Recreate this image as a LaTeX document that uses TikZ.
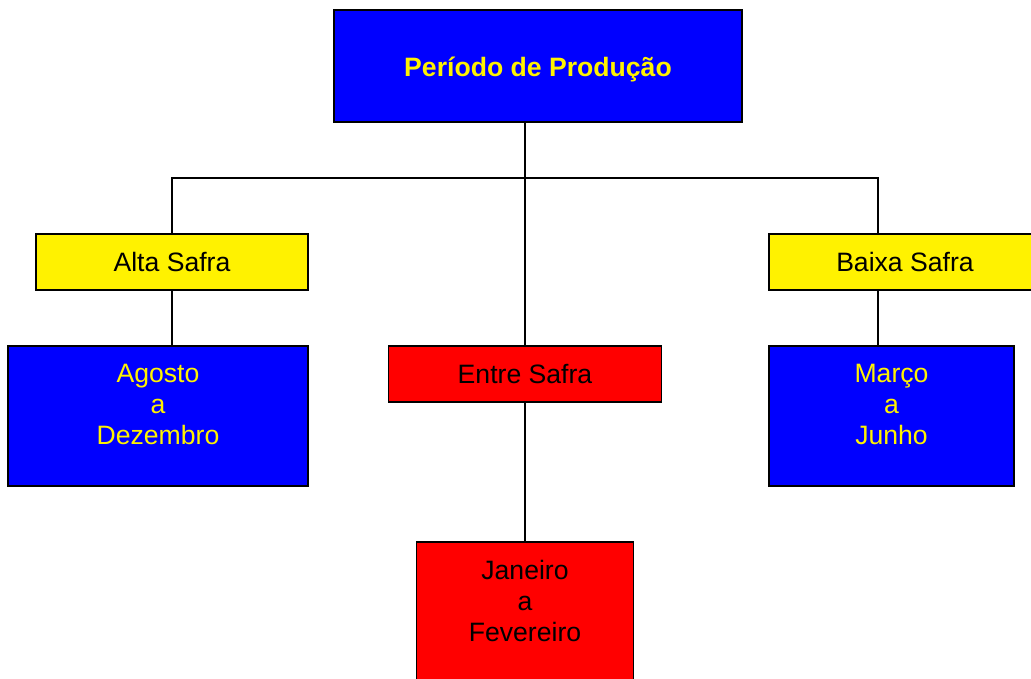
\documentclass[tikz,border=0pt]{standalone}
\usepackage{fontspec}
\setmainfont{Liberation Sans}
\usetikzlibrary{positioning}

\begin{document}
\begin{tikzpicture}[x=1pt, y=-1pt, line width=1.6pt]
	\tikzstyle{box}=[draw, rectangle, inner sep=0pt, outer sep=0pt,
		font=\fontsize{26.6}{31}\selectfont, text height=19pt, text depth=0pt]
	\tikzstyle{blue box}=[box, fill=blue, text=yellow]
	\tikzstyle{yellow box}=[box, fill=yellow]
	\tikzstyle{red box}=[box, fill=red]
	\tikzstyle{inside}=[anchor=north, align=center, inner sep=0pt, yshift=-17pt,
		font=\fontsize{26.6}{31}\selectfont]
	\useasboundingbox (0,0) rectangle (1031,678);
	\clip (0,0) rectangle (1031,678);
	% % Nodes
	% production period
	\node[blue box, minimum width=408pt, minimum height=112pt, text height=21pt] (period)
		at (538,66) {\bfseries Período de Produção};
	% high season
	\node[yellow box, minimum width=272pt, minimum height=56pt] (alta)
		at (172,262) {Alta Safra};
	% low season
	\node[yellow box, minimum width=272pt, minimum height=56pt] (baixa)
		at (905,262) {Baixa Safra};
	% between seasons
	\node[red box, minimum width=273pt, minimum height=56pt] (entre)
		at (525,374) {Entre Safra};
	% months, high season
	\node[blue box, minimum width=300pt, minimum height=140pt,
		below right=56pt and -28pt of alta.south west,
		label={[inside, text=yellow]north:Agosto\\a\\Dezembro}] (agosto) {};
	% months, low season
	\node[blue box, minimum width=245pt, minimum height=140pt,
		below right=56pt and 0pt of baixa.south west,
		label={[inside, text=yellow]north:Março\\a\\Junho}] (marco) {};
	% months, between seasons
	\node[red box, minimum width=217pt, minimum height=150pt,
		below=140pt of entre, anchor=north,
		label={[inside, text=black]north:Janeiro\\a\\Fevereiro}] (janeiro) {};
	% % Connectors
	\coordinate (fork) at (525,178);
	\coordinate (baixa top) at ([xshift=109pt]baixa.north west);
	\coordinate (baixa bottom) at ([xshift=109pt]baixa.south west);
	\draw (period.south -| fork) -- (entre.north -| fork);
	\draw (alta.north) -- (alta.north |- fork) -- (fork -| baixa top) -- (baixa top);
	\draw (alta.south) -- (alta.south |- agosto.north);
	\draw (baixa bottom) -- (baixa bottom |- marco.north);
	\draw (entre.south) -- (janeiro.north);
\end{tikzpicture}
\end{document}
